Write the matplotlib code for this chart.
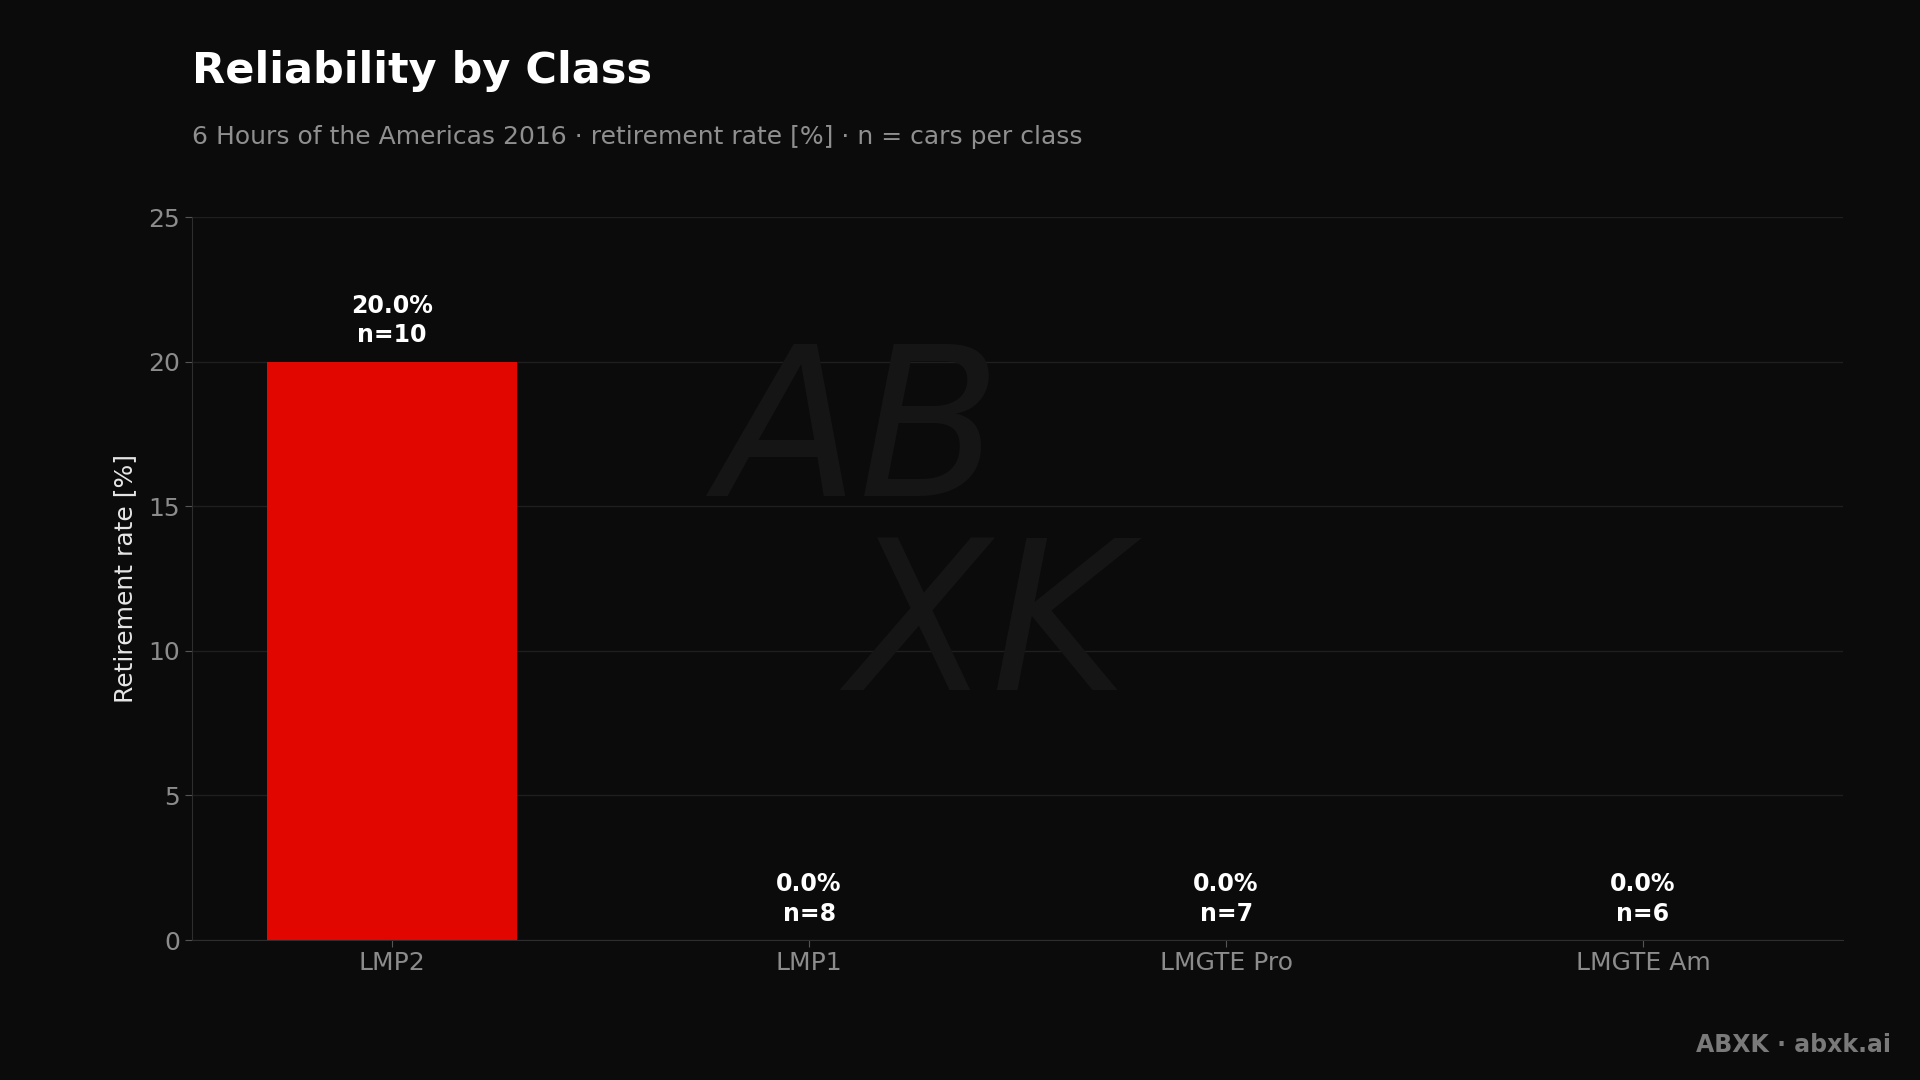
import matplotlib.pyplot as plt

classes = ['LMP2', 'LMP1', 'LMGTE Pro', 'LMGTE Am']
retire_rate = [20.0, 0.0, 0.0, 0.0]
n_cars = [10, 8, 7, 6]
yticks = [0, 5, 10, 15, 20, 25]

bg = '#0b0b0b'
plt.rcParams['font.family'] = ['DejaVu Sans']

fig = plt.figure(figsize=(19.2, 10.8), dpi=100, facecolor=bg)
ax = fig.add_axes([0.1, 0.1296, 0.86, 0.6694], facecolor=bg)

# watermark (one text, two lines)
fig.text(0.48, 0.505, 'AB\n  XK', fontsize=150, style='italic', color='#151515',
         ha='center', va='center', multialignment='left', linespacing=0.95, zorder=0)

x = range(len(classes))
ax.bar(x, retire_rate, width=0.6, color='#e10600', zorder=3)

for i, v in enumerate(retire_rate):
    ax.text(i, v + 0.5, f'{v:.1f}%\nn={n_cars[i]}', ha='center', va='bottom',
            color='white', fontsize=17, fontweight='bold', linespacing=1.3, zorder=4)

ax.set_xticks(list(x))
ax.set_xticklabels(classes)
ax.set_yticks(yticks)
ax.set_ylim(0, 25)
ax.grid(axis='y', color='#1f1f1f', linewidth=1, zorder=0)
ax.set_axisbelow(True)
ax.tick_params(colors='#555555', labelcolor='#8c8c8c', labelsize=18, length=5)
ax.tick_params(axis='x', pad=3)
for s in ['top', 'right']:
    ax.spines[s].set_visible(False)
for s in ['left', 'bottom']:
    ax.spines[s].set_color('#2e2e2e')
ax.set_ylabel('Retirement rate [%]', color='#e6e6e6', fontsize=18, labelpad=8)

fig.text(0.1, 0.934, 'Reliability by Class', color='white', fontsize=31,
         fontweight='bold', ha='left', va='center')
fig.text(0.1, 0.873, '6 Hours of the Americas 2016 · retirement rate [%] · n = cars per class',
         color='#8f8f8f', fontsize=18, ha='left', va='center')
fig.text(0.985, 0.032, 'ABXK · abxk.ai', color='#7a7a7a', fontsize=17,
         fontweight='bold', ha='right', va='center')

fig.savefig('out.png', dpi=100, facecolor=bg)
